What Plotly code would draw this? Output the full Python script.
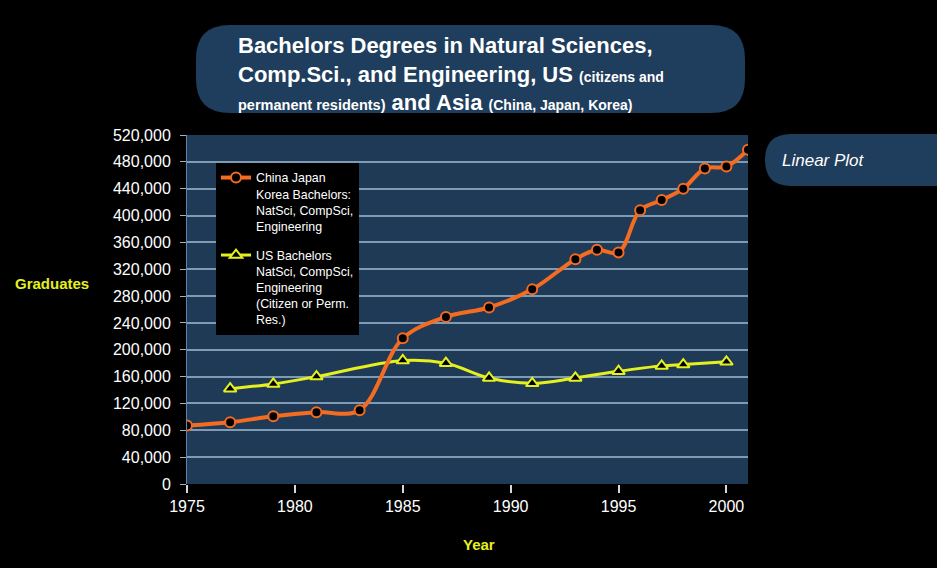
import plotly.graph_objects as go

# ---- data ----
asia_years = [1975, 1977, 1979, 1981, 1983, 1985, 1987, 1989, 1991, 1993, 1994, 1995, 1996, 1997, 1998, 1999, 2000, 2001]
asia_values = [87000, 92000, 101000, 107000, 110000, 217000, 249000, 263000, 290000, 335000, 349000, 345000, 408000, 423000, 440000, 470000, 473000, 498000]

us_years = [1977, 1979, 1981, 1985, 1987, 1989, 1991, 1993, 1995, 1997, 1998, 2000]
us_values = [142000, 149000, 160000, 184000, 180000, 158000, 150000, 158000, 168000, 176000, 178000, 182000]

x_ticks = [1975, 1980, 1985, 1990, 1995, 2000]
y_ticks = list(range(0, 520001, 40000))

asia_name = "China Japan<br>Korea Bachelors:<br>NatSci, CompSci,<br>Engineering"
us_name = "US Bachelors<br>NatSci, CompSci,<br>Engineering<br>(Citizen or Perm.<br>Res.)"

ORANGE = "#f36c21"
YELLOW = "#e4f020"
PLOT_BG = "#1f3a56"
BOX_BG = "#1f3d5c"
GRID = "#7f9bb4"
FONT = "Liberation Sans, Arial, sans-serif"

# layout geometry (pixels)
W, H = 937, 568
L, R, T, B = 187, 748, 135, 484


def px(x):
    return (x - L) / (R - L)


def py(y):
    return (B - y) / (B - T)


def rounded_rect(x0, y0, x1, y1, r):
    pts = [
        f"M {px(x0 + r)},{py(y0)}",
        f"L {px(x1 - r)},{py(y0)}",
        f"Q {px(x1)},{py(y0)} {px(x1)},{py(y0 + r)}",
        f"L {px(x1)},{py(y1 - r)}",
        f"Q {px(x1)},{py(y1)} {px(x1 - r)},{py(y1)}",
        f"L {px(x0 + r)},{py(y1)}",
        f"Q {px(x0)},{py(y1)} {px(x0)},{py(y1 - r)}",
        f"L {px(x0)},{py(y0 + r)}",
        f"Q {px(x0)},{py(y0)} {px(x0 + r)},{py(y0)}",
        "Z",
    ]
    return " ".join(pts)


fig = go.Figure()

fig.add_trace(go.Scatter(
    x=us_years, y=us_values, name=us_name, mode="lines+markers",
    line=dict(color=YELLOW, width=3, shape="spline", smoothing=1),
    marker=dict(symbol="triangle-up", size=11, color="black", line=dict(color=YELLOW, width=2)),
    legendgroup="us", legendrank=2,
))
fig.add_trace(go.Scatter(
    x=asia_years, y=asia_values, name=asia_name, mode="lines+markers",
    line=dict(color=ORANGE, width=4, shape="spline", smoothing=1),
    marker=dict(symbol="circle", size=10, color="black", line=dict(color=ORANGE, width=2)),
    legendgroup="asia", legendrank=1,
))

title_text = (
    "<b>Bachelors Degrees in Natural Sciences,<br>"
    "Comp.Sci., and Engineering, US <span style='font-size:14px'>(citizens and</span><br>"
    "<span style='font-size:14.5px'>permanent residents)</span> and Asia "
    "<span style='font-size:14px'>(China, Japan, Korea)</span></b>"
)

fig.update_layout(
    width=W, height=H,
    margin=dict(l=L, r=W - R, t=T, b=H - B),
    paper_bgcolor="black",
    plot_bgcolor=PLOT_BG,
    font=dict(family=FONT, color="white", size=16),
    showlegend=True,
    legend=dict(
        x=px(216), y=py(163), xanchor="left", yanchor="top",
        bgcolor="black", borderwidth=0,
        font=dict(size=12.4, color="white", family=FONT),
        tracegroupgap=10, valign="top",
        traceorder="grouped",
    ),
    xaxis=dict(
        range=[1975, 2001], tickvals=x_ticks, showgrid=False,
        ticks="outside", ticklen=8, tickwidth=2, tickcolor="#d0d8e0",
        tickfont=dict(size=16, color="white"), zeroline=False,
        showline=False,
    ),
    yaxis=dict(
        range=[0, 520000], tickvals=y_ticks, tickformat=",",
        showgrid=True, gridcolor=GRID, gridwidth=2,
        ticks="outside", ticklen=6, tickwidth=1, tickcolor="#a0b0c0",
        tickfont=dict(size=16, color="white"), zeroline=False,
        showline=True, linecolor="#5f86ad", linewidth=1,
        ticklabelstandoff=6,
    ),
    shapes=[
        dict(type="path", xref="paper", yref="paper", path=rounded_rect(196, 25, 745, 113, 34),
             fillcolor=BOX_BG, line=dict(width=0), layer="below"),
        dict(type="path", xref="paper", yref="paper", path=rounded_rect(765, 134, 960, 186, 26),
             fillcolor=BOX_BG, line=dict(width=0), layer="below"),
    ],
    annotations=[
        dict(text=title_text, xref="paper", yref="paper", x=px(236), y=py(74),
             xanchor="left", yanchor="middle", align="left", showarrow=False,
             font=dict(size=22, color="white", family=FONT)),
        dict(text="<i>Linear Plot</i>", xref="paper", yref="paper", x=px(780), y=py(160),
             xanchor="left", yanchor="middle", showarrow=False,
             font=dict(size=17, color="white", family=FONT)),
        dict(text="<b>Graduates</b>", xref="paper", yref="paper", x=px(52), y=py(283),
             xanchor="center", yanchor="middle", showarrow=False,
             font=dict(size=15, color=YELLOW, family=FONT)),
        dict(text="<b>Year</b>", xref="paper", yref="paper", x=px(479), y=py(544),
             xanchor="center", yanchor="middle", showarrow=False,
             font=dict(size=15, color=YELLOW, family=FONT)),
    ],
)

fig.write_html(
    "out.html",
    config={"displayModeBar": False},
    post_script="document.body.style.margin='0';document.body.style.background='black';",
)
